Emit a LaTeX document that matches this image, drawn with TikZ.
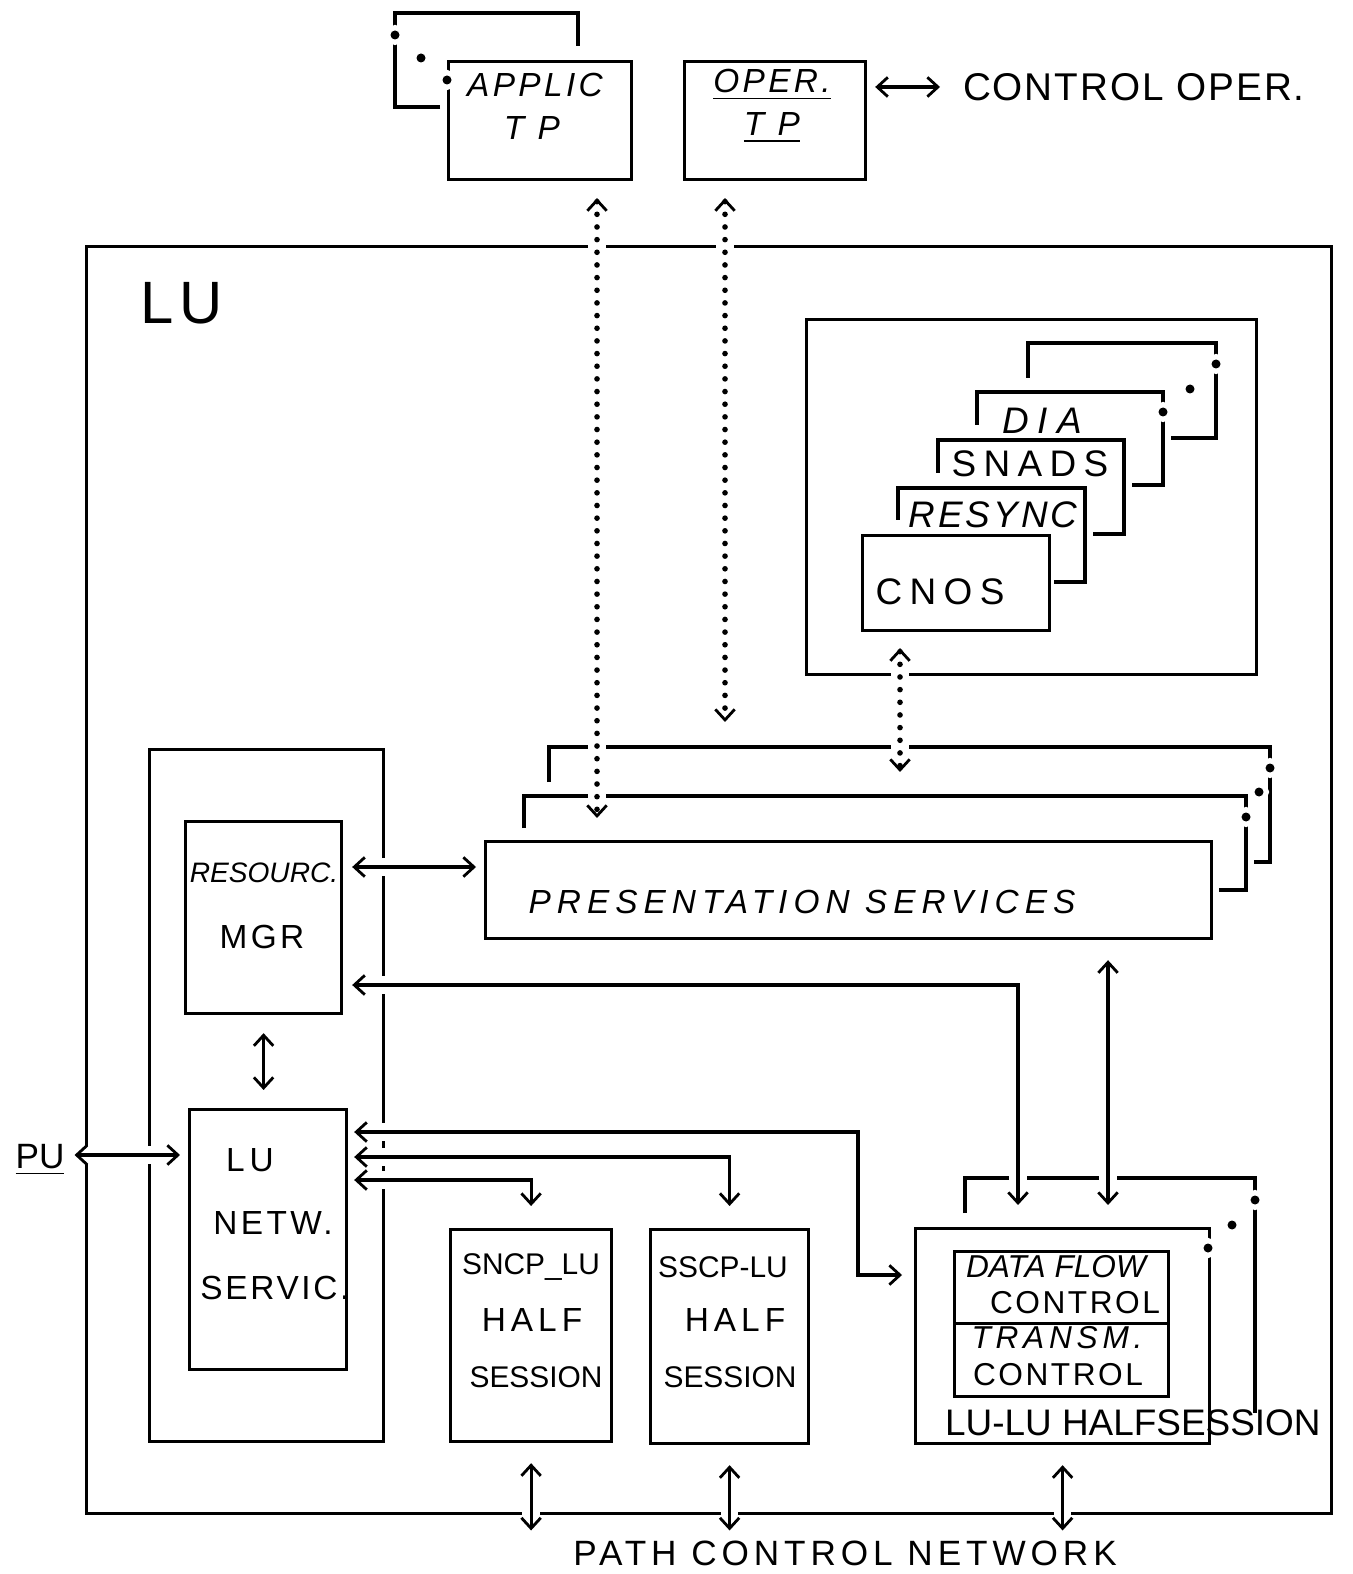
\documentclass[tikz,border=0pt]{standalone}
\usepackage{fontspec}
\setmainfont{Liberation Sans}
\usetikzlibrary{arrows.meta}

\begin{document}
\begin{tikzpicture}[
  x=0.01cm, y=-0.01cm,
  line width=0.9pt,
  >={Straight Barb[length=3pt, width=5.5pt, line width=0.8pt]},
  box/.style={draw, inner sep=0pt, anchor=north west},
  wh/.style 2 args={minimum width=#1*0.01cm, minimum height=#2*0.01cm},
  txt/.style={inner sep=1pt, font=\fontsize{9.5}{11}\selectfont},
  ital/.style={inner sep=1pt, font=\fontsize{9.5}{11}\selectfont\itshape},
  wide/.style={inner sep=1pt, font=\fontsize{9.5}{11}\selectfont\addfontfeature{LetterSpace=#1}},
  wideit/.style={inner sep=1pt, font=\fontsize{9.5}{11}\selectfont\itshape\addfontfeature{LetterSpace=#1}},
  narrow/.style={inner sep=1pt, font=\fontsize{8.5}{10}\selectfont},
  gap/.style={preaction={draw=white, line width=5pt, solid, -}},
  link/.style={<->, gap},
  dots/.style={<->, gap, line width=1.6pt, line cap=round, dash pattern=on 0pt off 3.6pt},
  stackdot/.style={fill=black, preaction={fill=white, draw=white, line width=3pt}}
]
\useasboundingbox (0,0) rectangle (1352,1574);

% logical unit
\node[box, wh={1245}{1267}] (lu) at (85,245) {};
\node[txt, font=\fontsize{17}{20}\selectfont\addfontfeature{LetterSpace=10}] (lutxt) at (182,303) {LU};

% transaction programs
\draw (440,107) -| (395,13) -| (578,46);
\node[box, wh={183}{118}] (applic) at (447,60) {};
\node[wideit=10] (applictxt) at (535,85) {APPLIC};
\node[wideit=40] (applictp) at (532,128) {TP};
\node[box, wh={181}{118}] (oper) at (683,60) {};
\node[wideit=10] (opertxt) at (772,85) {\underline{OPER.}};
\node[wideit=40] (opertp) at (772,128) {\underline{TP}};
\node[txt, anchor=west, font=\fontsize{11}{13}\selectfont\addfontfeature{LetterSpace=5}] (ctrl) at (958,87) {CONTROL OPER.};

% services stack
\node[box, wh={450}{355}] (apps) at (805,318) {};
\draw (1028,378) |- (1216,343) |- (1171,438);
\draw (977,425) |- (1163,392) |- (1132,485);
\draw (938,473) |- (1124,440) |- (1093,534);
\draw (898,520) |- (1085,488) |- (1054,582);
\node[box, wh={187}{95}] (cnos) at (861,534) {};
\node[ital, font=\fontsize{10.5}{12}\selectfont\itshape\addfontfeature{LetterSpace=25}] (dia) at (1042,421) {DIA};
\node[txt, font=\fontsize{10.5}{12}\selectfont\addfontfeature{LetterSpace=20}] (snads) at (1030,464) {SNADS};
\node[ital, font=\fontsize{10.5}{12}\selectfont\itshape\addfontfeature{LetterSpace=8}] (resync) at (993,515) {RESYNC};
\node[txt, font=\fontsize{10.5}{12}\selectfont\addfontfeature{LetterSpace=20}] (cnostxt) at (940,592) {CNOS};

% presentation services stack
\coordinate (pstop) at (549,747);
\coordinate (psmid) at (524,796);
\draw (549,782) -- (pstop) -| (1270,862) -- (1254,862);
\draw (524,828) -- (psmid) -| (1246,890) -- (1219,890);
\node[box, wh={726}{97}] (ps) at (484,840) {};
\node[wideit=18] (pstxt) at (802,902) {PRESENTATION SERVICES};

% LU network services
\node[box, wh={234}{692}] (netcont) at (148,748) {};
\node[box, wh={156}{192}] (rm) at (184,820) {};
\node[ital, font=\fontsize{8}{10}\selectfont\itshape] (rmtxt) at (264,873) {RESOURC.};
\node[wide=10] (mgr) at (262,937) {MGR};
\node[box, wh={157}{260}] (nws) at (188,1108) {};
\node[wide=15] (nwslu) at (250,1160) {LU};
\node[wide=10] (nwsnetw) at (273,1223) {NETW.};
\node[wide=8] (nwsserv) at (275,1288) {SERVIC.};
\node[wide=5, font=\fontsize{10}{12}\selectfont] (pu) at (40,1160) {\underline{PU}};

% half sessions
\node[box, wh={161}{212}] (sncp) at (449,1228) {};
\node[narrow] (sncp1) at (531,1267) {SNCP\_LU};
\node[wide=15] (sncp2) at (532,1320) {HALF};
\node[narrow] (sncp3) at (536,1377) {SESSION};
\node[box, wh={158}{214}] (sscp) at (649,1228) {};
\node[narrow] (sscp1) at (723,1267) {SSCP-LU};
\node[wide=15] (sscp2) at (735,1320) {HALF};
\node[narrow] (sscp3) at (730,1377) {SESSION};

\draw (965,1213) |- (1255,1178) -- (1255,1413);
\node[box, wh={294}{215}] (luhs) at (914,1227) {};
\node[box, wh={214}{72}] (dfc) at (953,1250) {};
\node[box, wh={214}{73}] (tc) at (953,1322) {};
\node[ital, font=\fontsize{9}{11}\selectfont\itshape] (dfc1) at (1056,1267) {DATA FLOW};
\node[txt, font=\fontsize{9}{11}\selectfont\addfontfeature{LetterSpace=8}] (dfc2) at (1075,1303) {CONTROL};
\node[ital, font=\fontsize{9}{11}\selectfont\itshape\addfontfeature{LetterSpace=15}] (tc1) at (1057,1338) {TRANSM.};
\node[txt, font=\fontsize{9}{11}\selectfont\addfontfeature{LetterSpace=8}] (tc2) at (1058,1375) {CONTROL};
\node[txt, anchor=west, font=\fontsize{10.5}{12}\selectfont] (luhstxt) at (940,1423) {LU-LU HALFSESSION};

\node[txt, font=\fontsize{10}{12}\selectfont\addfontfeature{LetterSpace=14}] (pcn) at (845,1553) {PATH CONTROL NETWORK};

% connectors
\draw[link, shorten <=0.08cm, shorten >=0.18cm] (oper.east |- ctrl.west) -- (ctrl.west);
\draw[dots, shorten <=0.17cm, shorten >=0.22cm] (597,0 |- applic.south) -- (597,0 |- ps.north);
\draw[dots, shorten <=0.17cm, shorten >=0.25cm] (725,0 |- oper.south) -- (725,0 |- pstop);
\draw[dots, shorten <=0.16cm, shorten >=0.24cm] (900,0 |- cnos.south) -- (900,0 |- psmid);

\draw[link, shorten <=0.09cm, shorten >=0.08cm] (rm.east |- 0,867) -- (ps.west |- 0,867);
\draw[link, shorten <=0.09cm, shorten >=0.22cm] (rm.east |- 0,985) -| (luhs.north -| 1018,0);
\draw[link, shorten <=0.2cm, shorten >=0.22cm] (ps.south -| 1108,0) -- (luhs.north -| 1108,0);
\draw[link, shorten <=0.18cm, shorten >=0.18cm] (rm.south) -- (rm.south |- nws.north);
\draw[link, shorten <=0.05cm, shorten >=0.08cm] (pu.east |- 0,1155) -- (nws.west |- 0,1155);

\draw[link, shorten <=0.06cm, shorten >=0.12cm] (nws.east |- 0,1132) -| (858,1275) -- (luhs.west |- 0,1275);
\draw[link, shorten <=0.06cm, shorten >=0.22cm] (nws.east |- 0,1157) -| (sscp.north);
\draw[link, shorten <=0.06cm, shorten >=0.22cm] (nws.east |- 0,1180) -| (sncp.north);

\draw[link, shorten <=0.2cm, shorten >=0.05cm] (sncp.south) -- (sncp.south |- pcn.north);
\draw[link, shorten <=0.2cm, shorten >=0.05cm] (sscp.south) -- (sscp.south |- pcn.north);
\draw[link, shorten <=0.2cm, shorten >=0.05cm] (luhs.south) -- (luhs.south |- pcn.north);

% stack marks
\fill[stackdot] (395,35) circle[radius=4.5];
\fill[stackdot] (421,58) circle[radius=4.5];
\fill[stackdot] (447,80) circle[radius=4.5];
\fill[stackdot] (1216,364) circle[radius=4.5];
\fill[stackdot] (1190,389) circle[radius=4.5];
\fill[stackdot] (1163,412) circle[radius=4.5];
\fill[stackdot] (1270,768) circle[radius=4.5];
\fill[stackdot] (1259,792) circle[radius=4.5];
\fill[stackdot] (1246,817) circle[radius=4.5];
\fill[stackdot] (1255,1200) circle[radius=4.5];
\fill[stackdot] (1232,1225) circle[radius=4.5];
\fill[stackdot] (1208,1248) circle[radius=4.5];

\end{tikzpicture}
\end{document}
